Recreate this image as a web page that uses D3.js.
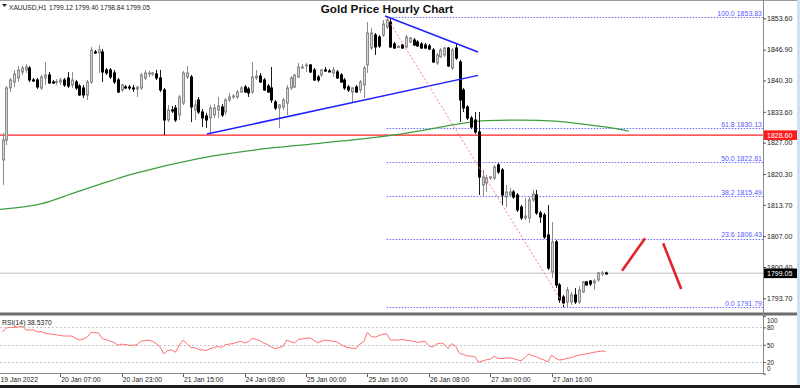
<!DOCTYPE html>
<html><head><meta charset="utf-8">
<script src="https://cdn.jsdelivr.net/npm/d3@7"></script>
<style>html,body{margin:0;padding:0;background:#fff;overflow:hidden}</style>
</head><body><svg id="c" width="800" height="388" xmlns="http://www.w3.org/2000/svg"></svg>
<script>
// ---------- DATA ----------
const opens = [1823.30,1827.57,1838.70,1839.98,1840.84,1842.12,1842.55,1842.97,1840.41,1840.41,
1838.70,1840.84,1841.48,1839.98,1839.98,1839.98,1840.41,1840.84,1839.34,1839.98,
1839.12,1838.70,1837.20,1839.98,1846.40,1846.18,1846.40,1842.55,1842.55,1841.91,
1840.41,1838.27,1838.91,1838.91,1838.70,1838.48,1838.70,1840.84,1841.69,1841.69,
1841.69,1840.84,1838.27,1831.85,1833.99,1834.42,1832.92,1835.49,1841.05,1841.05,
1833.99,1836.13,1833.56,1832.71,1832.28,1832.92,1833.99,1834.63,1833.56,1836.13,
1836.77,1836.77,1837.84,1838.91,1838.48,1837.84,1840.84,1841.26,1840.41,1839.12,
1838.70,1835.70,1834.42,1834.63,1835.49,1838.70,1838.91,1841.05,1842.97,1843.40,
1843.62,1842.55,1841.05,1841.48,1842.55,1842.33,1841.91,1842.12,1841.48,1840.41,
1838.91,1837.84,1838.91,1838.27,1839.34,1843.62,1847.25,1850.03,1849.61,1850.03,
1851.74,1852.81,1848.11,1847.47,1847.89,1847.47,1848.54,1848.96,1848.54,1848.11,
1847.89,1847.68,1846.82,1844.04,1845.33,1845.76,1847.25,1842.97,1847.25,1844.26,
1838.27,1834.63,1832.28,1831.85,1829.29,1817.95,1818.38,1819.45,1819.45,1822.23,
1821.16,1815.38,1815.81,1816.45,1815.81,1813.24,1810.89,1810.89,1814.74,1815.81,
1811.96,1811.53,1807.25,1799.34,1805.76,1796.56,1793.99,1792.92,1792.92,1794.42,
1792.92,1795.06,1797.20,1797.41,1796.99,1797.63,1798.91,1799.12];
const highs = [1829.07,1839.12,1840.84,1842.55,1843.40,1843.40,1843.83,1843.40,1840.84,1840.84,
1841.48,1844.26,1842.12,1840.41,1840.62,1840.84,1840.84,1842.12,1842.12,1840.41,
1839.55,1839.34,1840.41,1847.47,1846.82,1847.89,1847.04,1842.97,1842.97,1842.55,
1840.84,1839.55,1839.34,1839.34,1839.34,1839.12,1841.91,1842.55,1842.33,1842.12,
1842.55,1842.55,1838.70,1835.06,1834.85,1835.06,1837.20,1842.33,1843.40,1841.48,
1836.13,1836.77,1834.20,1833.35,1835.06,1835.27,1836.77,1835.27,1836.56,1837.63,
1837.41,1838.27,1839.12,1839.34,1838.91,1844.26,1842.55,1841.91,1840.84,1839.55,
1843.19,1836.13,1835.27,1836.56,1839.34,1841.26,1841.69,1844.04,1843.83,1844.04,
1843.83,1842.97,1841.48,1842.76,1843.19,1842.76,1843.19,1842.55,1841.91,1840.84,
1839.34,1838.91,1839.34,1840.41,1843.40,1852.81,1851.53,1850.46,1850.03,1853.24,
1853.83,1853.67,1848.54,1847.89,1848.11,1850.03,1849.61,1849.39,1848.96,1848.54,
1848.32,1848.11,1847.25,1846.18,1847.25,1847.47,1847.47,1847.25,1848.11,1844.69,
1838.70,1835.06,1832.71,1833.56,1833.56,1821.16,1820.09,1819.87,1822.23,1822.65,
1821.58,1817.95,1817.31,1816.88,1816.24,1813.67,1815.17,1815.38,1816.88,1816.88,
1812.39,1811.96,1813.67,1810.03,1806.18,1796.99,1794.42,1796.13,1795.06,1795.92,
1796.34,1797.41,1797.41,1797.63,1797.84,1799.34,1799.55,1799.40];
const lows = [1817.95,1826.50,1837.84,1838.91,1839.98,1841.48,1841.91,1839.98,1839.98,1838.48,
1838.27,1839.34,1839.55,1839.55,1839.34,1839.34,1838.91,1838.70,1838.70,1838.27,
1836.99,1836.56,1836.13,1839.55,1845.97,1841.91,1839.98,1841.48,1840.62,1839.55,
1837.63,1837.84,1838.48,1838.27,1837.84,1836.77,1838.27,1840.41,1841.05,1841.26,
1840.41,1837.84,1828.64,1831.42,1833.35,1831.42,1831.85,1835.06,1840.62,1831.42,
1831.85,1833.14,1830.35,1830.14,1828.64,1832.28,1832.28,1832.49,1832.92,1835.70,
1836.34,1836.34,1837.63,1837.63,1836.77,1837.41,1840.41,1839.77,1838.06,1837.63,
1835.49,1833.99,1830.14,1833.99,1832.92,1838.27,1838.70,1840.84,1842.76,1842.12,
1841.91,1840.19,1839.98,1841.05,1842.12,1842.12,1841.05,1840.62,1839.77,1838.27,
1837.84,1835.70,1837.63,1837.63,1836.56,1841.91,1846.82,1845.76,1847.25,1849.61,
1851.32,1847.25,1847.04,1847.25,1847.04,1847.25,1848.32,1847.68,1847.47,1847.04,
1847.04,1846.82,1844.04,1843.62,1845.11,1845.33,1843.19,1842.55,1844.69,1831.42,
1833.56,1831.85,1829.93,1828.86,1815.81,1815.38,1816.45,1819.02,1819.02,1820.30,
1813.67,1813.24,1815.38,1814.95,1812.17,1810.46,1810.46,1809.82,1814.31,1811.53,
1809.82,1806.40,1799.77,1798.06,1795.92,1792.71,1791.79,1791.85,1792.28,1792.49,
1792.49,1794.85,1796.34,1796.34,1795.49,1797.20,1798.48,1798.84];
const closes = [1827.57,1838.70,1840.41,1841.69,1842.55,1842.97,1843.19,1840.41,1840.30,1838.91,
1841.05,1841.48,1839.77,1839.87,1840.09,1840.41,1839.34,1839.12,1840.41,1838.70,
1837.20,1837.20,1839.98,1846.82,1846.30,1846.82,1842.12,1841.91,1841.05,1839.98,
1837.84,1839.34,1838.80,1838.70,1838.48,1838.91,1841.48,1841.91,1841.91,1841.91,
1840.84,1838.27,1831.85,1833.99,1833.88,1831.85,1836.77,1841.91,1841.91,1834.63,
1835.06,1833.56,1832.28,1831.85,1834.42,1834.42,1834.85,1832.92,1836.13,1836.77,
1836.99,1837.84,1838.70,1837.84,1837.63,1841.05,1841.26,1839.98,1838.27,1837.84,
1836.13,1834.42,1835.06,1836.13,1838.70,1840.84,1841.48,1843.19,1843.19,1843.62,
1842.12,1840.41,1840.41,1842.55,1842.33,1842.23,1842.55,1840.84,1839.98,1838.70,
1838.27,1838.70,1837.84,1839.98,1842.97,1850.46,1850.46,1847.47,1847.68,1852.39,
1853.24,1847.47,1847.25,1847.57,1847.25,1849.61,1849.39,1847.89,1847.68,1847.25,
1847.25,1847.04,1844.26,1845.76,1846.82,1847.25,1843.40,1846.82,1845.11,1836.13,
1834.42,1832.28,1830.35,1829.29,1819.66,1819.66,1819.45,1819.66,1821.80,1820.73,
1815.81,1816.45,1816.45,1815.38,1812.60,1810.89,1811.32,1814.74,1816.02,1811.96,
1811.10,1806.83,1800.19,1805.76,1796.56,1793.35,1792.71,1795.49,1794.42,1792.92,
1795.49,1797.20,1796.56,1796.77,1797.41,1799.13,1799.13,1799.05];
const rsiValues = [72,79,80,80,80.5,82,76,75,76,72,
73,70,69,68,67,66,65,65,65,61,
58,60,63,71,71,70,60,59,56,54,
49,51,50,49,49,50,56,57,58,56,
52,46,34,40,41,37,49,58,52,45,
45,42,41,40,43,45,47,45,50,51,
52,54,56,53,55,61,59,57,53,50,
46,43,45,47,58,55,53,59,60,61,
62,58,53,56,58,57,56,55,51,47,
45,44,43,51,55,71.5,64,63,66,68,
69,58,58,58,59,58,57,56,54,55,
56,48,46,51,53,51,43,52,47,35,
33,31,30,29,19.5,22,24,25,30,26,
26,27,27,26,24,22,28,34,31,29,
26,23.5,20.6,32,26.5,23.5,24.5,26.5,27.5,30,
32,33,34,35.5,37,38,39,38.54];
const maBars   = [-1, 10, 19, 34, 51, 70, 83, 102, 111, 118, 126, 135, 144, 153, 161, 163];
const maValues = [1812.7,1813.88,1816.34,1820.3,1823.6,1825.86,1826.91,1828.67,1829.86,1830.91,1831.72,1831.83,1831.62,1830.76,1829.8,1829.48];
const fibLevels = [100.0, 61.8, 50.0, 38.2, 23.6, 0.0];
const fibPrices = [1853.83, 1830.13, 1822.81, 1815.49, 1806.43, 1791.79];
const fibStartBar = 100, fibEndBar = 146.5;
const priceTicks = [1853.60,1846.90,1840.30,1833.60,1827.00,1820.30,1813.70,1807.00,1800.40,1793.70];
const rsiTicks = [100, 80, 50, 20, 0];
const rsiLevels = [80, 50, 20];
const timeTickBars = [0, 15, 31, 47, 63, 79, 95, 111, 127, 143];
const timeTickLabels = ["19 Jan 2022","20 Jan 07:00","20 Jan 23:00","21 Jan 15:00","24 Jan 08:00","25 Jan 00:00","25 Jan 16:00","26 Jan 08:00","27 Jan 00:00","27 Jan 16:00"];
const supportPrice = 1828.60;
const bidPrice = 1799.05;
const trendDownBars = [99.6, 123.8], trendDownPrices = [1854.09, 1846.40];
const trendUpBars = [53.2, 123.8], trendUpPrices = [1828.84, 1841.39];
const projUpBars = [161.3, 167.3], projUpPrices = [1799.62, 1806.55];
const projDownBars = [172, 176.7], projDownPrices = [1805.48, 1795.70];
const headerSymbol = "XAUUSD,H1";
const headerValues = "1799.12 1799.40 1798.84 1799.05";
const rsiLabel = "RSI(14) 38.5370";
const titleText = "Gold Price Hourly Chart";

// ---------- LAYOUT ----------
const FONT = "Liberation Sans, Arial, sans-serif";
const plotRight = 763, mainTop = 2, mainBottom = 312, rsiTop = 315.8, rsiBottom = 373.6;
const svg = d3.select("#c");
const x = d3.scaleLinear().domain([-0.677, 198]).range([0, plotRight]);
const y = d3.scaleLinear().domain([1790.77, 1857.09]).range([mainBottom, mainTop]);
const yr = d3.scaleLinear().domain([0, 100]).range([rsiBottom, rsiTop]);

svg.append("rect").attr("width",800).attr("height",388).attr("fill","#fff");
const defs = svg.append("defs");
defs.append("clipPath").attr("id","clipMain").append("rect").attr("x",0).attr("y",mainTop).attr("width",plotRight).attr("height",mainBottom-mainTop);
defs.append("clipPath").attr("id","clipRsi").append("rect").attr("x",0).attr("y",rsiTop-2).attr("width",plotRight).attr("height",rsiBottom-rsiTop+2);

const main = svg.append("g").attr("clip-path","url(#clipMain)");

// bid line
main.append("line").attr("x1",0).attr("x2",plotRight).attr("y1",y(bidPrice)).attr("y2",y(bidPrice))
  .attr("stroke","#d4d4d4").attr("stroke-width",1.6);

// fib horizontal lines
fibPrices.forEach((p,k)=>{
  main.append("line").attr("x1",x(fibStartBar)).attr("x2",plotRight).attr("y1",Math.round(y(p))+0.5).attr("y2",Math.round(y(p))+0.5)
    .attr("stroke","#6d6dff").attr("stroke-width",1).attr("stroke-dasharray","1.5,1.5");
});

// support line
main.append("line").attr("x1",0).attr("x2",plotRight).attr("y1",y(supportPrice)).attr("y2",y(supportPrice))
  .attr("stroke","#ff2020").attr("stroke-width",1.4);

// MA line
const maLine = d3.line().x((d,i)=>x(maBars[i])).y((d)=>y(d)).curve(d3.curveMonotoneX);
main.append("path").attr("d",maLine(maValues)).attr("fill","none").attr("stroke","#3f9f3f").attr("stroke-width",1.3);

// candles
const bars = opens.map((o,i)=>({i,o,h:highs[i],l:lows[i],c:closes[i]}));
const cg = main.append("g");
bars.forEach(d=>{
  const cx = Math.round(x(d.i));
  const bull = d.c >= d.o;
  cg.append("line").attr("x1",cx+0.5).attr("x2",cx+0.5).attr("y1",y(d.h)).attr("y2",y(d.l))
    .attr("stroke", bull ? "#8c8c8c" : "#1a1a1a").attr("stroke-width",1);
  const top = y(Math.max(d.o,d.c)), bot = y(Math.min(d.o,d.c));
  const h = Math.max(1, bot-top);
  cg.append("rect").attr("x",cx-0.5).attr("y",top).attr("width",2).attr("height",h)
    .attr("fill", bull ? "#d6d6d6" : "#000").attr("stroke", bull ? "#8c8c8c" : "#000").attr("stroke-width",1);
});

// trendlines
const tl = (bs,ps)=> main.append("line").attr("x1",x(bs[0])).attr("y1",y(ps[0])).attr("x2",x(bs[1])).attr("y2",y(ps[1]));
tl(trendDownBars,trendDownPrices).attr("stroke","#1f1fff").attr("stroke-width",1.5);
tl(trendUpBars,trendUpPrices).attr("stroke","#1f1fff").attr("stroke-width",1.5);
// fib diagonal
main.append("line").attr("x1",x(fibStartBar)).attr("y1",y(fibPrices[0])).attr("x2",x(fibEndBar)).attr("y2",y(fibPrices[5]))
  .attr("stroke","#ff7a7a").attr("stroke-width",1).attr("stroke-dasharray","2,2");
// projection lines
tl(projUpBars,projUpPrices).attr("stroke","#e3232b").attr("stroke-width",2.6);
tl(projDownBars,projDownPrices).attr("stroke","#e3232b").attr("stroke-width",2.6);

// fib labels
fibPrices.forEach((p,k)=>{
  svg.append("text").attr("x",plotRight-1).attr("y",y(p)-1.5).attr("text-anchor","end")
    .attr("font-family",FONT).attr("font-size",7).attr("fill","#5a5aff")
    .text(fibLevels[k].toFixed(1)+" "+p.toFixed(2));
});

// RSI panel
const rg = svg.append("g").attr("clip-path","url(#clipRsi)");
rsiLevels.forEach(v=>{
  rg.append("line").attr("x1",0).attr("x2",plotRight).attr("y1",Math.round(yr(v))+0.5).attr("y2",Math.round(yr(v))+0.5)
    .attr("stroke","#c4c4c4").attr("stroke-width",1).attr("stroke-dasharray","2,2");
});
const rsiLine = d3.line().x((d,i)=>x(i)).y(d=>yr(d));
rg.append("path").attr("d",rsiLine(rsiValues)).attr("fill","none").attr("stroke","#ff6e6e").attr("stroke-width",1);

// frames
svg.append("line").attr("x1",0).attr("x2",800).attr("y1",0.5).attr("y2",0.5).attr("stroke","#9a9a9a");
svg.append("rect").attr("x",0).attr("y",312.5).attr("width",797).attr("height",3).attr("fill","#6c6c6c");
svg.append("line").attr("x1",0).attr("x2",plotRight).attr("y1",373.5).attr("y2",373.5).attr("stroke","#8a8a8a");
svg.append("line").attr("x1",plotRight+0.5).attr("x2",plotRight+0.5).attr("y1",0).attr("y2",374).attr("stroke","#8a8a8a");
svg.append("rect").attr("x",797).attr("y",0).attr("width",3).attr("height",385).attr("fill","#cfe2f5");
svg.append("rect").attr("x",0).attr("y",385).attr("width",800).attr("height",3).attr("fill","#1e1e1e");

// price axis
const pax = svg.append("g").attr("transform",`translate(${plotRight},0)`)
  .call(d3.axisRight(y).tickValues(priceTicks).tickSize(3).tickFormat(d3.format(".2f")));
pax.select(".domain").remove();
pax.selectAll("line").attr("stroke","#555");
pax.selectAll("text").attr("x",4).attr("font-family",FONT).attr("font-size",7).attr("fill","#222");

// RSI axis (top/bottom labels kept inside the panel, as in the terminal)
const rsiLabelShift = {100: 7.2, 80: 2.4, 50: 2.4, 20: 2.3, 0: -3.4};
const rax = svg.append("g").attr("transform",`translate(${plotRight},0)`)
  .call(d3.axisRight(yr).tickValues(rsiTicks).tickSize(3).tickFormat(d=>String(d)));
rax.select(".domain").remove();
rax.selectAll("line").attr("stroke","#555");
rax.selectAll("text").attr("x",4).attr("font-family",FONT).attr("font-size",6.4).attr("fill","#222")
  .attr("dy",d=> rsiLabelShift[d] + "px");

// price boxes
function priceBox(p, fill){
  const g = svg.append("g");
  g.append("rect").attr("x",plotRight+1).attr("y",y(p)-4.8).attr("width",33).attr("height",9.6).attr("fill",fill);
  g.append("text").attr("x",plotRight+4).attr("y",y(p)+2.5).attr("font-family",FONT).attr("font-size",7).attr("fill","#fff").text(p.toFixed(2));
}
priceBox(supportPrice,"#ff1a1a");
priceBox(bidPrice,"#000");

// time axis
timeTickBars.forEach((b,k)=>{
  const tx = x(b);
  if(k>0) svg.append("line").attr("x1",Math.round(tx)+0.5).attr("x2",Math.round(tx)+0.5).attr("y1",374).attr("y2",377).attr("stroke","#555");
  svg.append("text").attr("x",k===0?0.5:tx+1).attr("y",381.5).attr("font-family",FONT).attr("font-size",6.8).attr("fill","#222").text(timeTickLabels[k]);
});

// header
svg.append("path").attr("d","M2,4L7,4L4.5,7Z").attr("fill","#222");
svg.append("text").attr("x",9).attr("y",9.5).attr("font-family",FONT).attr("font-size",6.6).attr("fill","#222").text(headerSymbol);
svg.append("text").attr("x",49).attr("y",9.5).attr("font-family",FONT).attr("font-size",6.6).attr("fill","#222").text(headerValues);
svg.append("text").attr("x",2).attr("y",324.5).attr("font-family",FONT).attr("font-size",6.8).attr("fill","#222").text(rsiLabel);

// title
svg.append("text").attr("x",387).attr("y",13.2).attr("text-anchor","middle").attr("font-family",FONT)
  .attr("font-weight","bold").attr("font-size",11.7).attr("fill","#111").text(titleText);
</script>
</body></html>
